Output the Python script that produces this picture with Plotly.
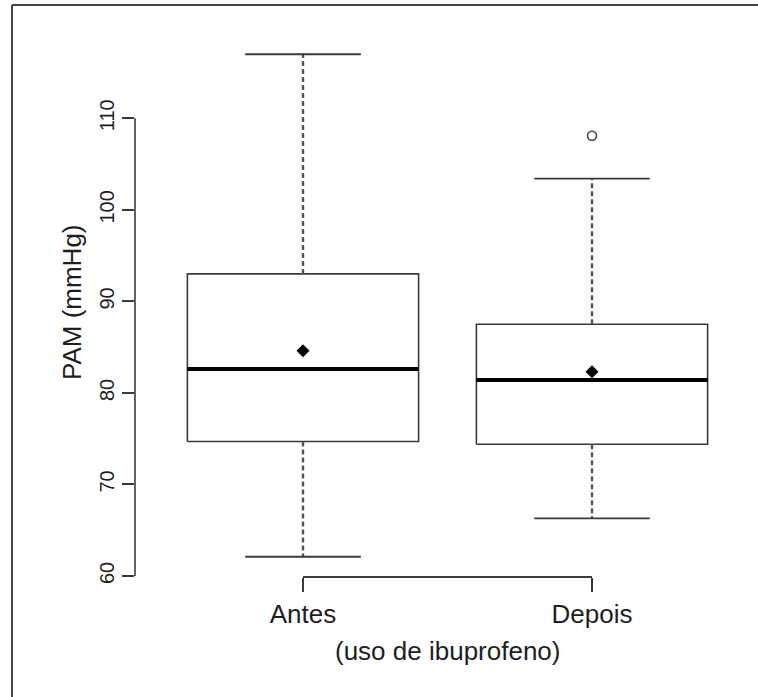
import plotly.graph_objects as go

# ---- data ----
categories = ["Antes", "Depois"]
q1 = [74.7, 74.4]
median = [82.6, 81.4]
q3 = [93.0, 87.5]
whisker_low = [62.1, 66.3]
whisker_high = [117.0, 103.4]
means = [84.6, 82.3]
outlier_cat = ["Depois"]
outlier_val = [108.1]
y_ticks = [60, 70, 80, 90, 100, 110]
y_title = "PAM (mmHg)"
x_title = "(uso de ibuprofeno)"

# ---- style constants ----
BOX_W = 0.8
CAP_W = 0.4
W, H = 758, 697
ML, MR, MT, MB = 135, 0, 34, 120
FONT = "Liberation Sans, Arial, sans-serif"
LINE = "#3a3a3a"

pos = [i + 1 for i in range(len(categories))]

def seg_xy(pairs):
    xs, ys = [], []
    for (x0, y0, x1, y1) in pairs:
        xs += [x0, x1, None]
        ys += [y0, y1, None]
    return xs, ys

fig = go.Figure()

# boxes
bx, by = [], []
for p, a, b in zip(pos, q1, q3):
    h = BOX_W / 2
    bx += [p - h, p + h, p + h, p - h, p - h, None]
    by += [a, a, b, b, a, None]
fig.add_trace(go.Scatter(x=bx, y=by, mode="lines", line=dict(color=LINE, width=1.6),
                         hoverinfo="skip", showlegend=False))

# whiskers (dashed)
wx, wy = seg_xy([(p, b, p, hi) for p, b, hi in zip(pos, q3, whisker_high)] +
                [(p, a, p, lo) for p, a, lo in zip(pos, q1, whisker_low)])
fig.add_trace(go.Scatter(x=wx, y=wy, mode="lines",
                         line=dict(color="#555555", width=2.4, dash="5px,3px"),
                         hoverinfo="skip", showlegend=False))

# caps
cx, cy = seg_xy([(p - CAP_W / 2, v, p + CAP_W / 2, v) for p, v in zip(pos, whisker_high)] +
                [(p - CAP_W / 2, v, p + CAP_W / 2, v) for p, v in zip(pos, whisker_low)])
fig.add_trace(go.Scatter(x=cx, y=cy, mode="lines", line=dict(color=LINE, width=1.8),
                         hoverinfo="skip", showlegend=False))

# medians
mx, my = seg_xy([(p - BOX_W / 2, m, p + BOX_W / 2, m) for p, m in zip(pos, median)])
fig.add_trace(go.Scatter(x=mx, y=my, mode="lines", line=dict(color="black", width=4),
                         hoverinfo="skip", showlegend=False))

# means
fig.add_trace(go.Scatter(x=pos, y=means, mode="markers",
                         marker=dict(symbol="diamond", size=10, color="black"),
                         hoverinfo="skip", showlegend=False))

# outliers
opos = [pos[categories.index(c)] for c in outlier_cat]
fig.add_trace(go.Scatter(x=opos, y=outlier_val, mode="markers",
                         marker=dict(symbol="circle-open", size=9, color="#444444",
                                     line=dict(width=1.6)),
                         hoverinfo="skip", showlegend=False))

# ranges from pixel geometry
px_per_unit_x = 289.0
x0 = pos[0] - (303 - ML) / px_per_unit_x
x1 = x0 + (W - ML - MR) / px_per_unit_x
y_top = 119.21
y_bot = 59.89

fig.update_xaxes(range=[x0, x1], tickvals=pos, ticktext=categories,
                 ticks="outside", ticklen=14, tickwidth=2, tickcolor=LINE,
                 showline=False, showgrid=False, zeroline=False,
                 tickfont=dict(family=FONT, size=26, color="#1e1e1e"))
fig.update_yaxes(range=[y_bot, y_top], tickvals=y_ticks,
                 ticks="outside", ticklen=12, tickwidth=1.6, tickcolor=LINE,
                 tickangle=-90,
                 showline=False, showgrid=False, zeroline=False,
                 tickfont=dict(family=FONT, size=20, color="#1e1e1e"))

# axis lines spanning the tick range (R style)
fig.add_shape(type="line", xref="x domain", yref="y", x0=0, x1=0,
              y0=y_ticks[0], y1=y_ticks[-1], line=dict(color=LINE, width=1.6))
fig.add_shape(type="line", xref="x", yref="y domain", x0=pos[0], x1=pos[-1],
              y0=0, y1=0, line=dict(color=LINE, width=2))

# outer frame (top and left edges)
pw = W - ML - MR
ph = H - MT - MB
fy = 1 + (MT - 5) / ph
fx = (12 - ML) / pw
fig.add_shape(type="line", xref="paper", yref="paper",
              x0=fx, x1=1.0, y0=fy, y1=fy,
              line=dict(color="#444444", width=2))
fig.add_shape(type="line", xref="paper", yref="paper",
              x0=fx, x1=fx, y0=fy, y1=-(MB) / ph,
              line=dict(color="#444444", width=2))

# titles
fig.add_annotation(text=y_title, textangle=-90, xref="paper", yref="paper",
                   x=(72 - ML) / pw, y=1 - (302 - MT) / ph, showarrow=False,
                   xanchor="center", yanchor="middle",
                   font=dict(family=FONT, size=26, color="#1e1e1e"))
fig.add_annotation(text=x_title, xref="paper", yref="paper",
                   x=(447 - ML) / pw, y=1 - (651 - MT) / ph, showarrow=False,
                   xanchor="center", yanchor="middle",
                   font=dict(family=FONT, size=26, color="#1e1e1e"))

fig.update_layout(width=W, height=H, margin=dict(l=ML, r=MR, t=MT, b=MB),
                  plot_bgcolor="white", paper_bgcolor="white", showlegend=False)

fig.write_html("out.html", config={"displayModeBar": False},
               post_script="document.body.style.margin='0';document.body.style.overflow='hidden';")
